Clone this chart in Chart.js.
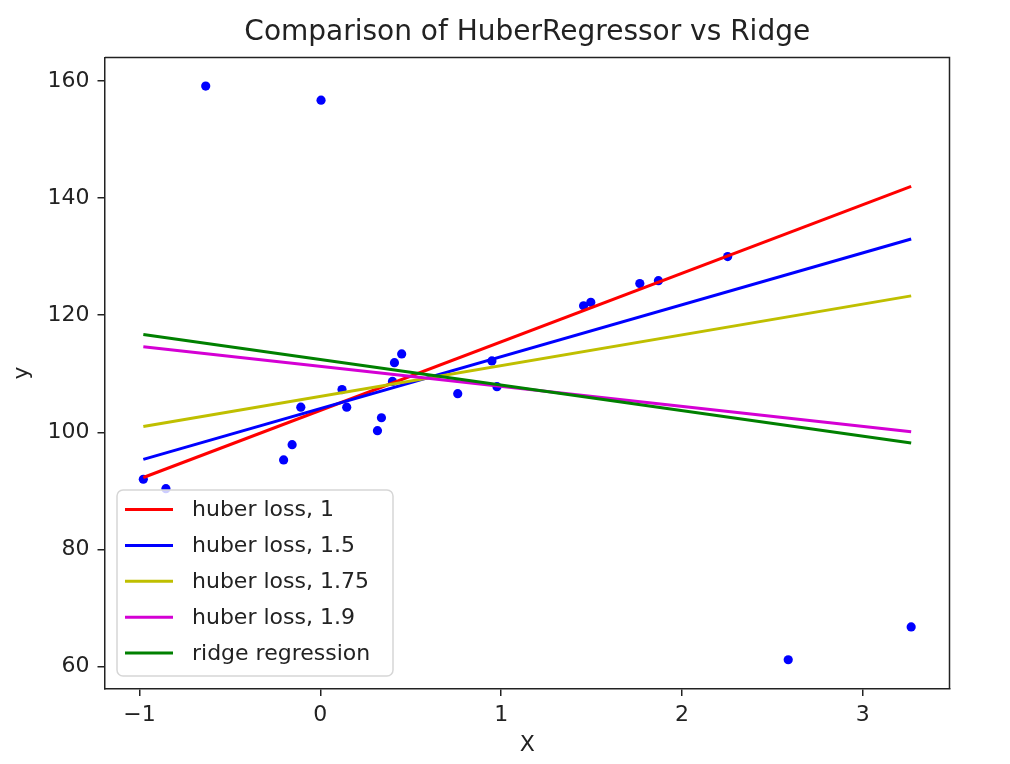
<!DOCTYPE html>
<html>
<head>
<meta charset="utf-8">
<script src="https://cdn.jsdelivr.net/npm/chart.js@4/dist/chart.umd.min.js"></script>
<style>
  html, body { margin: 0; padding: 0; background: #fff; }
  #wrap { width: 1010px; height: 764px; }
</style>
</head>
<body>
<div id="wrap"><canvas id="chart" width="1010" height="764"></canvas></div>
<script>
// scatter samples
const pointX = [-0.979, -0.854, -0.203, -0.156, -0.108, 0.120, 0.146, 0.316, 0.338, 0.399,
                0.410, 0.450, 0.760, 0.949, 0.977, 1.456, 1.496, 1.767, 1.870, 2.253,
                2.588, 3.268, -0.634, 0.004];
const pointY = [92.0, 90.4, 95.3, 97.9, 104.3, 107.3, 104.3, 100.3, 102.5, 108.7,
                111.9, 113.4, 106.6, 112.2, 107.8, 121.6, 122.2, 125.4, 125.9, 130.0,
                61.2, 66.8, 159.1, 156.7];

// fitted lines, evaluated at the ends of the x range
const lineX = [-0.979, 3.268];
const huber1 = [92.3, 142.0];
const huber15 = [95.4, 133.0];
const huber175 = [101.0, 123.3];
const huber19 = [114.6, 100.1];
const ridge = [116.7, 98.2];

const seriesLabels = ['huber loss, 1', 'huber loss, 1.5', 'huber loss, 1.75', 'huber loss, 1.9', 'ridge regression'];
const seriesValues = [huber1, huber15, huber175, huber19, ridge];
const seriesColors = ['#ff0000', '#0000ff', '#bfbf00', '#d400d4', '#008000'];

const xTicks = [-1, 0, 1, 2, 3];
const yTicks = [60, 80, 100, 120, 140, 160];

const chartTitle = 'Comparison of HuberRegressor vs Ridge';

const FONT = 'DejaVu Sans';
const AXIS = '#222';

function toXY(xs, ys) {
    return xs.map((x, i) => ({ x: x, y: ys[i] }));
}

const datasets = seriesLabels.map((label, i) => ({
    type: 'line',
    label: label,
    data: toXY(lineX, seriesValues[i]),
    borderColor: seriesColors[i],
    backgroundColor: seriesColors[i],
    borderWidth: 3,
    pointRadius: 0,
    fill: false,
    order: 5 - i
}));

datasets.push({
    type: 'scatter',
    label: 'samples',
    data: toXY(pointX, pointY),
    backgroundColor: '#0000ff',
    borderWidth: 0,
    pointRadius: 4.6,
    order: 10
});

// title over the axes, top/right spines and the in-axes legend
const framePlugin = {
    id: 'frame',
    afterDatasetsDraw(chart) {
        const { ctx, chartArea: a } = chart;
        ctx.save();
        ctx.strokeStyle = AXIS;
        ctx.lineWidth = 1.5;
        ctx.beginPath();
        ctx.moveTo(a.left, a.top);
        ctx.lineTo(a.right, a.top);
        ctx.lineTo(a.right, a.bottom);
        ctx.stroke();

        ctx.fillStyle = '#222';
        ctx.font = '28px "' + FONT + '"';
        ctx.textAlign = 'center';
        ctx.textBaseline = 'middle';
        ctx.fillText(chartTitle, (a.left + a.right) / 2, 33);

        // legend box
        const bx = 117, by = 490, bw = 276, bh = 186, r = 6;
        ctx.beginPath();
        ctx.moveTo(bx + r, by);
        ctx.arcTo(bx + bw, by, bx + bw, by + bh, r);
        ctx.arcTo(bx + bw, by + bh, bx, by + bh, r);
        ctx.arcTo(bx, by + bh, bx, by, r);
        ctx.arcTo(bx, by, bx + bw, by, r);
        ctx.closePath();
        ctx.fillStyle = 'rgba(255,255,255,0.8)';
        ctx.fill();
        ctx.strokeStyle = '#d6d6d6';
        ctx.lineWidth = 1.5;
        ctx.stroke();

        ctx.font = '22px "' + FONT + '"';
        ctx.textAlign = 'left';
        ctx.textBaseline = 'middle';
        ctx.fillStyle = '#222';
        seriesLabels.forEach((label, i) => {
            const y = 509.5 + i * 35.9;
            ctx.strokeStyle = seriesColors[i];
            ctx.lineWidth = 3;
            ctx.beginPath();
            ctx.moveTo(125, y);
            ctx.lineTo(173, y);
            ctx.stroke();
            ctx.fillText(label, 192, y + 1);
        });
        ctx.restore();
    }
};

function axisTicks(values) {
    return function (scale) {
        scale.ticks = values.map(v => ({ value: v }));
    };
}

function minusLabel(value) {
    return value < 0 ? '\u2212' + Math.abs(value) : String(value);
}

new Chart(document.getElementById('chart'), {
    type: 'scatter',
    data: { datasets: datasets },
    plugins: [framePlugin],
    options: {
        responsive: false,
        animation: false,
        layout: { padding: { left: 0, right: 60.5, top: 57.4, bottom: 0 } },
        plugins: {
            legend: { display: false },
            tooltip: { enabled: false },
            title: { display: false }
        },
        scales: {
            x: {
                type: 'linear',
                min: -1.191,
                max: 3.48,
                afterBuildTicks: axisTicks(xTicks),
                afterFit(scale) { scale.height = 75.5; },
                grid: { drawOnChartArea: false, drawTicks: true, tickLength: 7.5, color: AXIS, lineWidth: 1.5 },
                border: { display: true, color: AXIS, width: 1.5 },
                ticks: {
                    color: '#222',
                    padding: 6,
                    maxRotation: 0,
                    font: { family: FONT, size: 22 },
                    callback: minusLabel
                },
                title: {
                    display: true,
                    text: 'X',
                    color: '#222',
                    font: { family: FONT, size: 22 },
                    padding: { top: 0, bottom: 6 }
                }
            },
            y: {
                type: 'linear',
                min: 56.29,
                max: 164.0,
                afterBuildTicks: axisTicks(yTicks),
                afterFit(scale) { scale.width = 105; },
                grid: { drawOnChartArea: false, drawTicks: true, tickLength: 7.5, color: AXIS, lineWidth: 1.5 },
                border: { display: true, color: AXIS, width: 1.5 },
                ticks: {
                    color: '#222',
                    padding: 8,
                    font: { family: FONT, size: 22 },
                    callback: minusLabel
                },
                title: {
                    display: true,
                    text: 'y',
                    color: '#222',
                    font: { family: FONT, size: 22 },
                    padding: { top: 9, bottom: 0 }
                }
            }
        }
    }
});
</script>
</body>
</html>
